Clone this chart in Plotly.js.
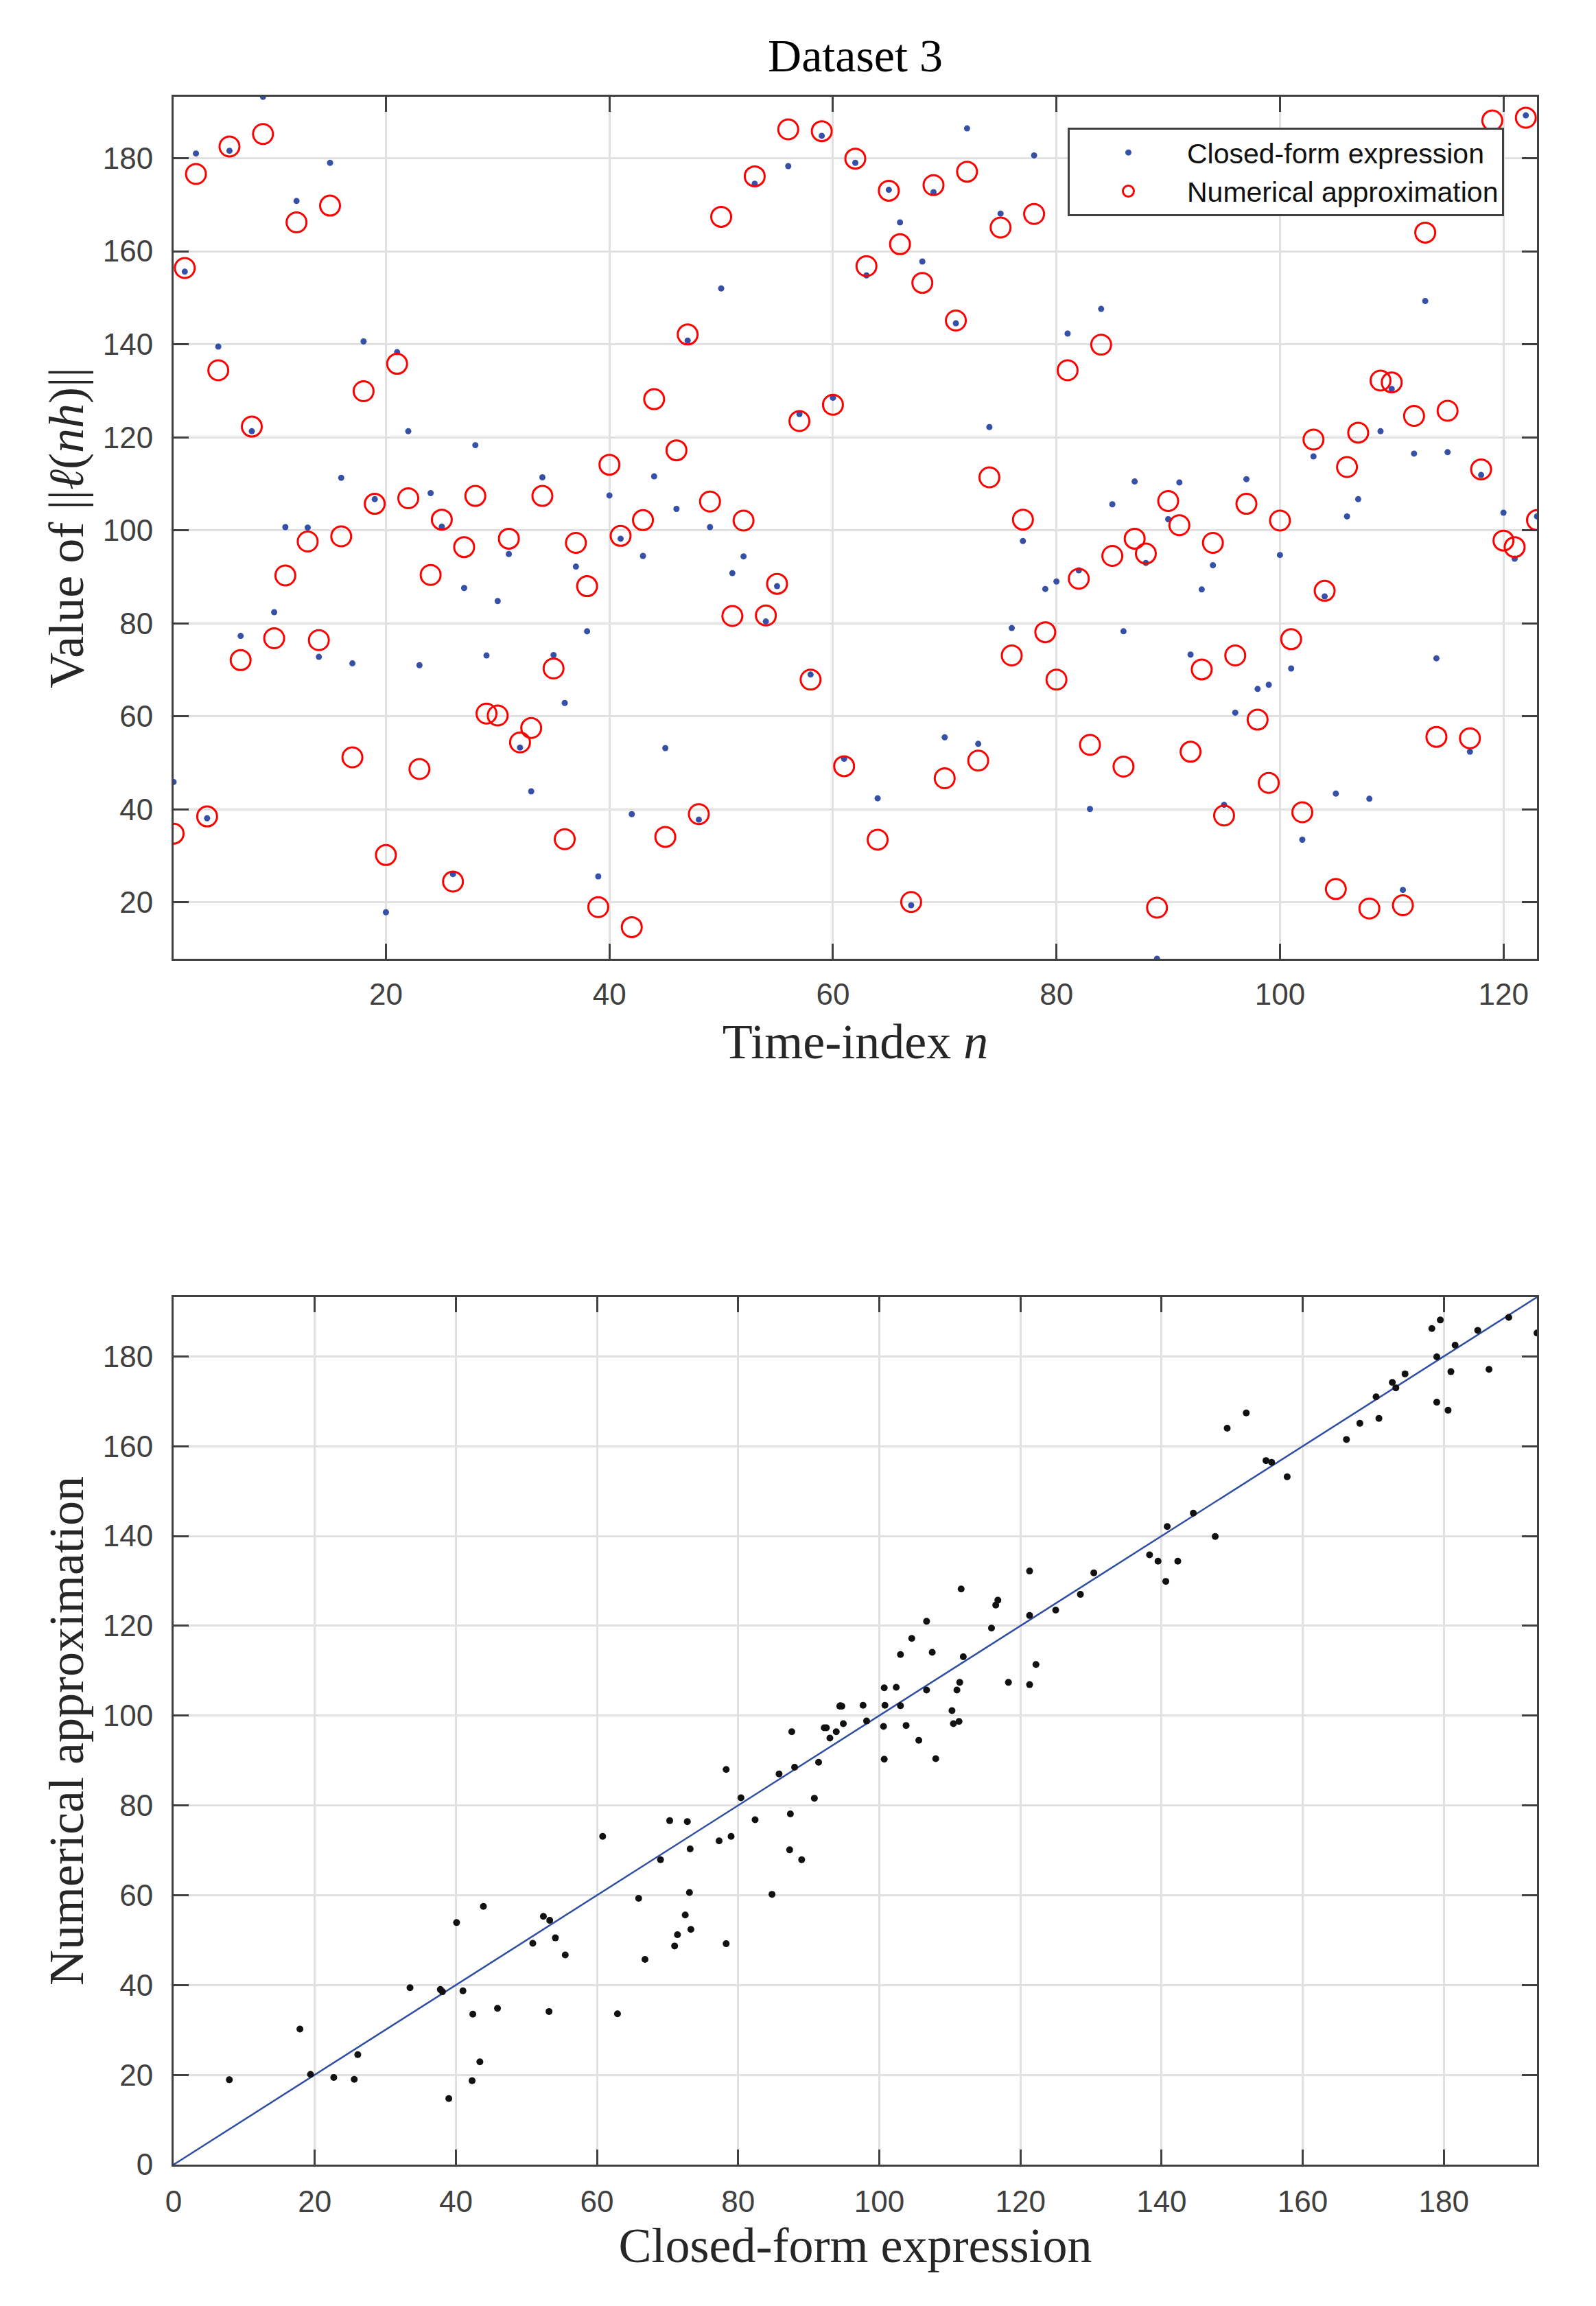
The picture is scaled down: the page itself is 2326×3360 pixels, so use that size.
<!DOCTYPE html>
<html>
<head>
<meta charset="utf-8">
<script src="https://cdn.plot.ly/plotly-3.0.1.min.js"></script>
<style>
html,body{margin:0;padding:0;background:#ffffff;}
#chart{width:2326px;height:3360px;}
</style>
</head>
<body>
<div id="chart"></div>
<script>
// ---------- data ----------
const timeIndex = [
  1,2,3,4,5,6,7,8,9,10,11,12,13,14,15,16,17,18,19,20,
  21,22,23,24,25,26,27,28,29,30,31,32,33,34,35,36,37,38,39,40,
  41,42,43,44,45,46,47,48,49,50,51,52,53,54,55,56,57,58,59,60,
  61,62,63,64,65,66,67,68,69,70,71,72,73,74,75,76,77,78,79,80,
  81,82,83,84,85,86,87,88,89,90,91,92,93,94,95,96,97,98,99,100,
  101,102,103,104,105,106,107,108,109,110,111,112,113,114,115,116,117,118,119,120,
  121,122,123
];
const closedForm = [
  45.9,155.6,181.0,38.1,139.5,181.6,77.3,121.3,193.2,82.4,
  100.7,170.8,100.6,72.8,179.0,111.3,71.4,140.6,106.7,17.9,
  138.3,121.3,71.0,108.0,100.8,26.1,87.6,118.3,73.1,84.8,
  94.9,53.3,43.9,111.4,73.2,62.9,92.2,78.3,25.6,107.5,
  98.2,39.0,94.5,111.6,53.2,104.6,140.8,37.8,100.7,152.0,
  90.8,94.4,174.5,80.4,88.0,178.3,125.0,69.0,184.8,128.5,
  50.9,179.0,154.8,42.4,173.2,166.2,19.4,157.8,172.7,55.5,
  144.5,186.4,54.1,122.2,168.1,79.0,97.7,180.6,87.4,89.0,
  142.3,91.4,40.1,147.6,105.6,78.3,110.5,93.0,7.9,102.4,
  110.3,73.3,87.3,92.5,41.0,60.8,111.0,65.9,66.8,94.7,
  70.3,33.5,115.9,85.8,43.4,103.0,106.7,42.3,121.3,130.4,
  22.7,116.5,149.3,72.5,116.8,170.4,52.4,111.9,179.5,103.8,
  93.9,189.2,103.0
];
const numerical = [
  34.8,156.4,176.6,38.5,134.4,182.5,72.1,122.3,185.2,76.8,
  90.3,166.2,97.6,76.4,169.8,98.7,51.2,129.9,105.7,30.2,
  135.8,106.9,48.7,90.4,102.3,24.5,96.4,107.4,60.6,60.2,
  98.2,54.4,57.5,107.4,70.3,33.6,97.3,88.0,19.0,114.1,
  98.8,14.7,102.2,128.2,34.1,117.2,142.1,39.0,106.2,167.4,
  81.6,102.1,176.1,81.7,88.5,186.2,123.5,67.9,185.8,127.0,
  49.3,179.9,156.8,33.5,173.0,161.5,20.1,153.2,174.2,46.7,
  145.1,177.1,50.5,111.4,165.1,73.1,102.3,168.0,78.1,67.9,
  134.4,89.6,53.9,139.9,94.5,49.2,98.2,95.0,18.9,106.3,
  101.1,52.4,70.1,97.3,38.7,73.1,105.7,59.3,45.7,102.1,
  76.6,39.4,119.5,87.0,22.9,113.6,121.0,18.7,132.2,131.8,
  19.4,124.6,164.0,55.6,125.7,171.0,55.3,113.1,188.1,97.8,
  96.4,188.7,102.2
];
const topXTicks = [20,40,60,80,100,120];
const topYTicks = [20,40,60,80,100,120,140,160,180];
const bottomTicks = [0,20,40,60,80,100,120,140,160,180];

// ---------- derived ranges ----------
const allVals = closedForm.concat(numerical);
const vMin = Math.min(...allVals);
const vMax = Math.max(...allVals);

// ---------- styling ----------
const tickFont = {family:'"Liberation Sans", Arial, Helvetica, sans-serif', size:44, color:'#404040'};
const labelFont = {family:'"Liberation Serif", "Times New Roman", serif', size:72, color:'#262626'};
const axisCommon = {
  showline:true, linecolor:'#404040', linewidth:3, mirror:'allticks',
  ticks:'inside', ticklen:22, tickwidth:3, tickcolor:'#404040',
  showgrid:true, gridcolor:'#e1e1e1', gridwidth:3,
  zeroline:false, tickfont:tickFont, automargin:false
};

const traces = [
  {
    x: timeIndex, y: closedForm, type:'scatter', mode:'markers',
    name:'Closed-form expression', xaxis:'x', yaxis:'y',
    marker:{color:'#3550a6', size:9, line:{width:0}}
  },
  {
    x: timeIndex, y: numerical, type:'scatter', mode:'markers',
    name:'Numerical approximation', xaxis:'x', yaxis:'y',
    marker:{symbol:'circle-open', color:'#ff0000', size:29, line:{width:3, color:'#ff0000'}}
  },
  {
    x: [0, vMax], y: [0, vMax], type:'scatter', mode:'lines',
    xaxis:'x2', yaxis:'y2', showlegend:false, hoverinfo:'skip',
    line:{color:'#2f4ea3', width:2.5}
  },
  {
    x: closedForm, y: numerical, type:'scatter', mode:'markers',
    xaxis:'x2', yaxis:'y2', showlegend:false,
    marker:{color:'#111111', size:10, line:{width:0}}
  }
];

const W = 2326, H = 3360;
const mL = 253, mR = W - 2240, mT = 141, mB = H - 3154;
const ph = H - mT - mB;
const px2paperY = (py) => (H - mB - py) / ph;
const px2paperX = (pxx) => (pxx - mL) / (W - mL - mR);

const layout = {
  width: W, height: H,
  margin:{l:mL, r:mR, t:mT, b:mB, pad:0},
  paper_bgcolor:'#ffffff', plot_bgcolor:'#ffffff',
  title:{
    text:'Dataset 3',
    font:{family:'"Liberation Serif", "Times New Roman", serif', size:68, color:'#000000'},
    xref:'container', x:1246.5/W, xanchor:'center',
    yref:'container', y:1 - 80/H, yanchor:'middle'
  },
  showlegend:true,
  legend:{
    x: px2paperX(2192), xanchor:'right',
    y: px2paperY(186), yanchor:'top',
    bgcolor:'#ffffff', bordercolor:'#404040', borderwidth:3,
    font:{family:'"Liberation Sans", Arial, Helvetica, sans-serif', size:41, color:'#111111'},
    itemwidth:161, itemsizing:'trace', traceorder:'normal'
  },
  xaxis: Object.assign({}, axisCommon, {
    domain:[0,1], anchor:'y', range:[1,123],
    tickmode:'array', tickvals:topXTicks, ticktext:topXTicks.map(String),
    ticklabelstandoff:11,
    title:{text:'Time-index <i>n</i>', font:labelFont, standoff:20}
  }),
  yaxis: Object.assign({}, axisCommon, {
    domain:[px2paperY(1397), 1], anchor:'x', range:[vMin, vMax],
    tickmode:'array', tickvals:topYTicks, ticktext:topYTicks.map(String),
    ticklabelstandoff:18,
    title:{text:'Value of ||<i>ℓ</i>(<i>nh</i>)||', font:labelFont, standoff:5}
  }),
  xaxis2: Object.assign({}, axisCommon, {
    domain:[0,1], anchor:'y2', range:[0, vMax],
    tickmode:'array', tickvals:bottomTicks, ticktext:bottomTicks.map(String),
    ticklabelstandoff:13,
    title:{text:'Closed-form expression', font:labelFont, standoff:14}
  }),
  yaxis2: Object.assign({}, axisCommon, {
    domain:[0, px2paperY(1890)], anchor:'x2', range:[0, vMax],
    tickmode:'array', tickvals:bottomTicks, ticktext:bottomTicks.map(String),
    ticklabelstandoff:18,
    title:{text:'Numerical approximation', font:labelFont, standoff:5}
  })
};

Plotly.newPlot('chart', traces, layout, {staticPlot:true, displayModeBar:false});
</script>
</body>
</html>
